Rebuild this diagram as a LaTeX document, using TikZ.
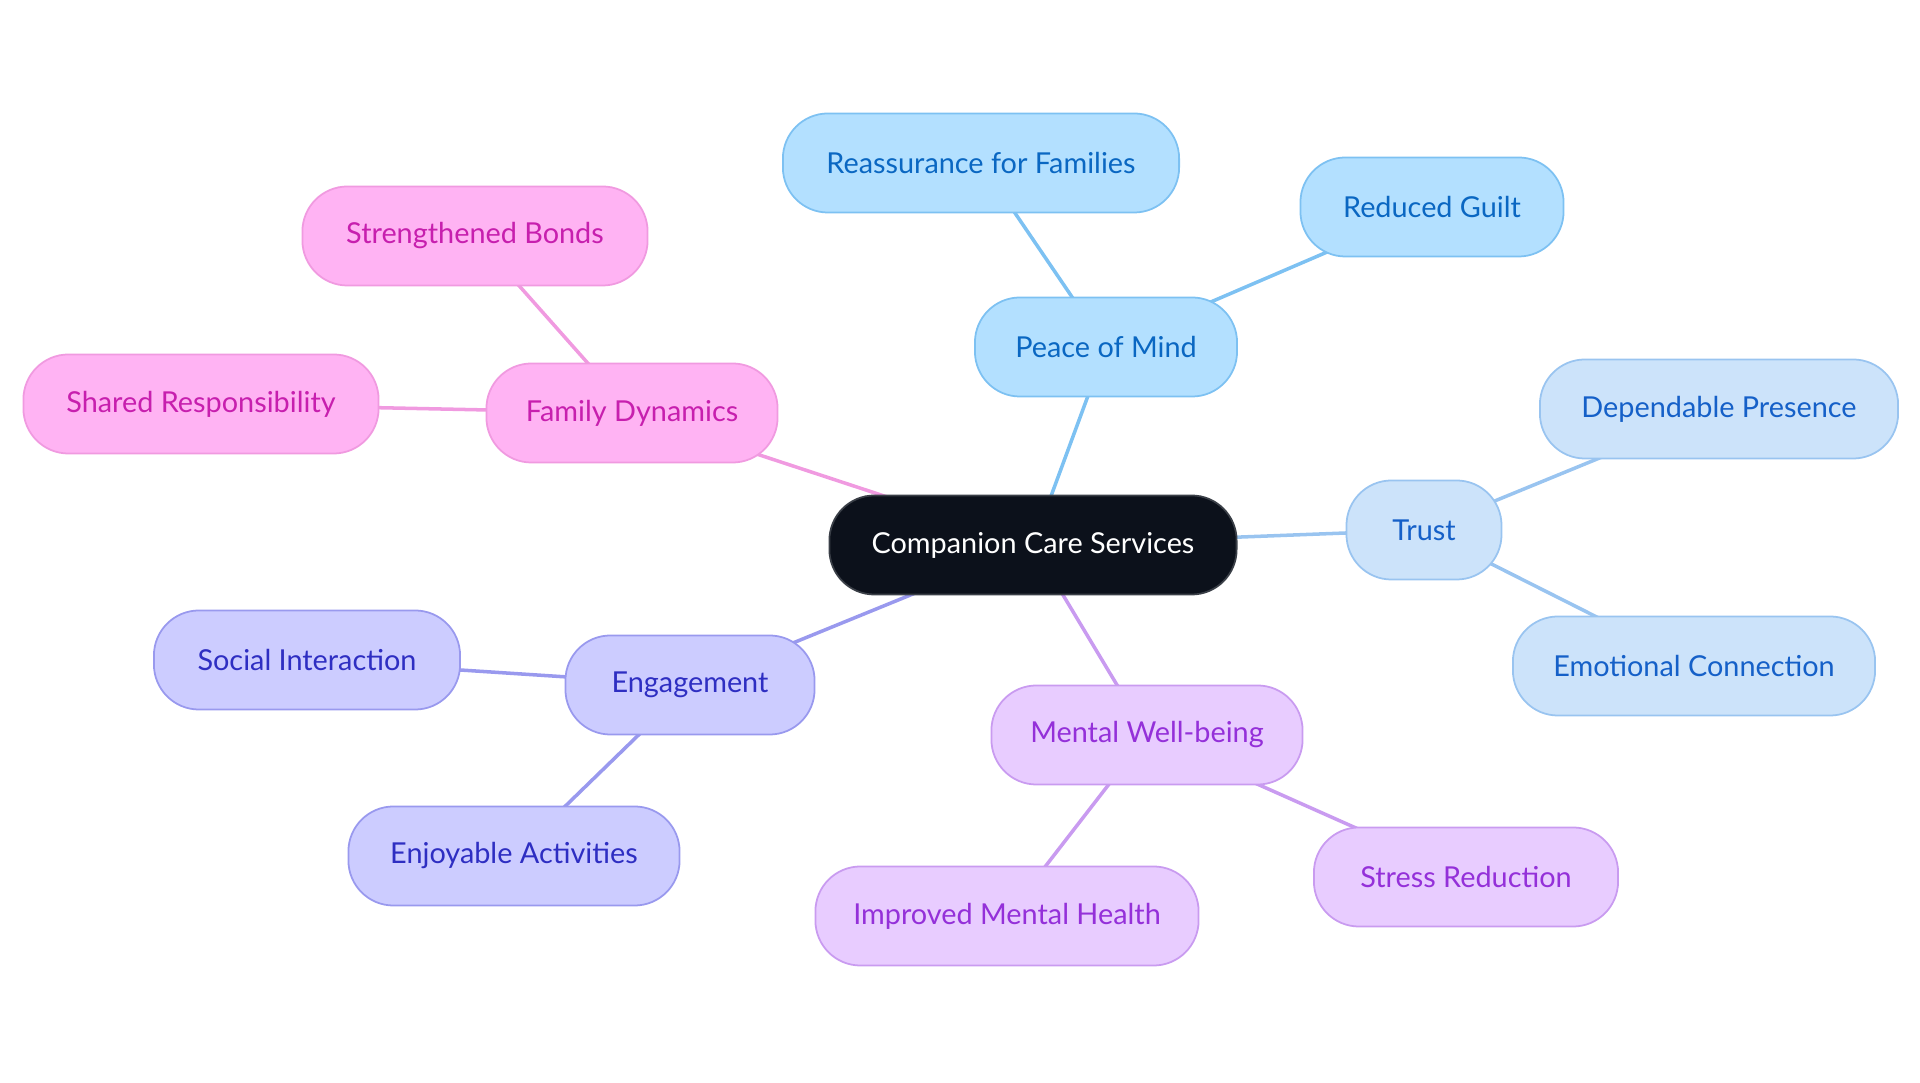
\documentclass[tikz,border=0pt]{standalone}
\usepackage{fontspec}
\setmainfont{Lato}
\usepackage{tikz}
\usetikzlibrary{positioning,backgrounds}
\definecolor{rootfill}{HTML}{0C111B}
\definecolor{rootdraw}{HTML}{3A3F47}
\definecolor{peacefill}{HTML}{B3E0FF}
\definecolor{peacedraw}{HTML}{7DC1F2}
\definecolor{peacetext}{HTML}{0A67C2}
\definecolor{trustfill}{HTML}{CCE3FA}
\definecolor{trustdraw}{HTML}{99C4F0}
\definecolor{trusttext}{HTML}{1560C8}
\definecolor{mindfill}{HTML}{E8CCFF}
\definecolor{minddraw}{HTML}{C99BF0}
\definecolor{mindtext}{HTML}{9430D9}
\definecolor{engfill}{HTML}{CCCCFF}
\definecolor{engdraw}{HTML}{9999EE}
\definecolor{engtext}{HTML}{2E2EC2}
\definecolor{famfill}{HTML}{FFB3F3}
\definecolor{famdraw}{HTML}{F09AE0}
\definecolor{famtext}{HTML}{C71FAE}
\tikzset{
  box/.style={rounded corners=0.45cm,minimum height=0.99cm,inner sep=0pt,
    line width=0.5pt,font=\fontsize{8.2}{10}\selectfont},
  root/.style={box,fill=rootfill,draw=rootdraw,text=white},
  peace/.style={box,fill=peacefill,draw=peacedraw,text=peacetext},
  trust/.style={box,fill=trustfill,draw=trustdraw,text=trusttext},
  mind/.style={box,fill=mindfill,draw=minddraw,text=mindtext},
  eng/.style={box,fill=engfill,draw=engdraw,text=engtext},
  fam/.style={box,fill=famfill,draw=famdraw,text=famtext},
  link/.style={line width=1pt}
}

\begin{document}
\begin{tikzpicture}[x=0.01cm,y=-0.01cm]
  \useasboundingbox (0,0) rectangle (1920,1083);
  % centre
  \node[root,minimum width=4.07cm] (care) at (1033,545) {Companion Care Services};
  % peace of mind
  \node[peace,minimum width=2.62cm] (peace) at (1106,347) {Peace of Mind};
  \node[peace,minimum width=3.96cm] (reass) at (981,163) {Reassurance for Families};
  \node[peace,minimum width=2.63cm] (guilt) at (1432,207) {Reduced Guilt};
  % trust
  \node[trust,minimum width=1.55cm] (trust) at (1424,530) {Trust};
  \node[trust,minimum width=3.58cm] (depend) at (1719,409) {Dependable Presence};
  \node[trust,minimum width=3.62cm] (emot) at (1694,666) {Emotional Connection};
  % mental well-being
  \node[mind,minimum width=3.11cm] (mental) at (1147,735) {Mental Well-being};
  \node[mind,minimum width=3.04cm] (stress) at (1466,877) {Stress Reduction};
  \node[mind,minimum width=3.83cm] (health) at (1007,916) {Improved Mental Health};
  % engagement
  \node[eng,minimum width=2.49cm] (engage) at (690,685) {Engagement};
  \node[eng,minimum width=3.06cm] (social) at (307,660) {Social Interaction};
  \node[eng,minimum width=3.31cm] (enjoy) at (514,856) {Enjoyable Activities};
  % family dynamics
  \node[fam,minimum width=2.91cm] (family) at (632,413) {Family Dynamics};
  \node[fam,minimum width=3.45cm] (bonds) at (475,236) {Strengthened Bonds};
  \node[fam,minimum width=3.55cm] (shared) at (201,404) {Shared Responsibility};
  \begin{scope}[on background layer]
    \draw[link,peacedraw] (care.center) -- (peace.center);
    \draw[link,peacedraw] (peace.center) -- (reass.center);
    \draw[link,peacedraw] (peace.center) -- (guilt.center);
    \draw[link,trustdraw] (care.center) -- (trust.center);
    \draw[link,trustdraw] (trust.center) -- (depend.center);
    \draw[link,trustdraw] (trust.center) -- (emot.center);
    \draw[link,minddraw] (care.center) -- (mental.center);
    \draw[link,minddraw] (mental.center) -- (stress.center);
    \draw[link,minddraw] (mental.center) -- (health.center);
    \draw[link,engdraw] (care.center) -- (engage.center);
    \draw[link,engdraw] (engage.center) -- (social.center);
    \draw[link,engdraw] (engage.center) -- (enjoy.center);
    \draw[link,famdraw] (care.center) -- (family.center);
    \draw[link,famdraw] (family.center) -- (bonds.center);
    \draw[link,famdraw] (family.center) -- (shared.center);
  \end{scope}
\end{tikzpicture}
\end{document}
